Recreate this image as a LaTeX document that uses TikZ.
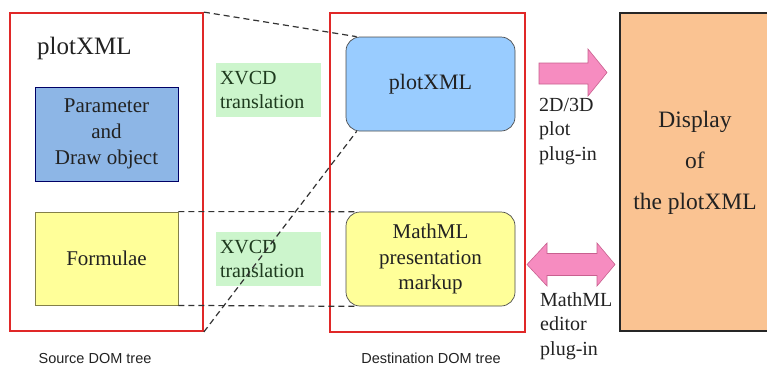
\documentclass[tikz,border=0pt]{standalone}
\usepackage{fontspec}
\setmainfont{Liberation Serif}
\setsansfont{Liberation Sans}
\usetikzlibrary{calc}
\definecolor{redbox}{HTML}{E02828}
\definecolor{lblue}{HTML}{8DB6E6}
\definecolor{rblue}{HTML}{99CCFF}
\definecolor{yel}{HTML}{FFFF99}
\definecolor{grn}{HTML}{CCF5CC}
\definecolor{grntext}{HTML}{1E3A1E}
\definecolor{orng}{HTML}{FAC392}
\definecolor{pinkf}{HTML}{F68CC0}
\definecolor{pinkd}{HTML}{C8608F}
\definecolor{txt}{HTML}{222222}
\tikzset{
  treebox/.style={draw=redbox, line width=1.8pt, inner sep=0pt},
  flatbox/.style={draw=#1, line width=0.8pt, inner sep=0pt, align=center, font=\fontsize{21}{26}\selectfont, text=txt},
  roundbox/.style={draw=black!70, line width=0.7pt, rounded corners=14pt, inner sep=0pt, align=center, text=txt},
  greenlab/.style={fill=grn, inner sep=0pt, align=left, text=grntext, font=\fontsize{20}{24}\selectfont},
  sidelab/.style={anchor=north west, inner sep=0pt, align=left, text=txt, font=\fontsize{20}{24.5}\selectfont},
  caption/.style={font=\sffamily\fontsize{14.5}{16}\selectfont, text=txt},
  linkline/.style={dash pattern=on 6pt off 4pt, draw=black!80, line width=1.2pt},
  pinkarrow/.style={fill=pinkf, draw=pinkd, line width=0.6pt, line join=miter}
}
\begin{document}
\begin{tikzpicture}[x=1pt,y=-1pt]
\useasboundingbox (0,0) rectangle (767,365);
% source tree
\node[treebox, minimum width=193pt, minimum height=318pt] (src) at (106.5,172) {};
\node[text=txt, font=\fontsize{25}{28}\selectfont, anchor=west, inner sep=0pt] (srctitle) at (37,48) {plotXML};
\node[flatbox=black!60!blue, fill=lblue, minimum width=143pt, minimum height=94pt] (pb) at (106.5,134) {Parameter\\and\\Draw object};
\node[flatbox=black!55!yellow, fill=yel, minimum width=143pt, minimum height=93pt] (fb) at (106.5,258.5) {Formulae};
% destination tree
\node[treebox, minimum width=195pt, minimum height=319pt] (dst) at (427.5,172.5) {};
\node[roundbox, fill=rblue, minimum width=169pt, minimum height=94pt, font=\fontsize{22}{26}\selectfont] (dp) at (430.5,84) {plotXML};
\node[roundbox, fill=yel, minimum width=169pt, minimum height=94pt, font=\fontsize{21}{25.5}\selectfont] (dm) at (430.5,259) {MathML\\presentation\\markup};
% translation labels
\node[greenlab, minimum width=105pt, minimum height=54pt, text width=97pt] (g1) at (268.5,90) {XVCD\\translation};
\node[greenlab, minimum width=105pt, minimum height=54pt, text width=97pt] (g2) at (268.5,259) {XVCD\\translation};
% links
\coordinate (dpa) at ($(dp.north west)+(11,0)$);
\coordinate (dpb) at ($(dp.south west)+(11,0)$);
\coordinate (dma) at ($(dm.north west)+(11,0)$);
\coordinate (dmb) at ($(dm.south west)+(11,0)$);
\draw[linkline] (src.north east) -- (dpa);
\draw[linkline] (src.south east) -- (dpb);
\draw[linkline] (fb.north east) -- (dma);
\draw[linkline] (fb.south east) -- (dmb);
% display
\node[draw=black!85, line width=1.3pt, fill=orng, minimum width=160pt, minimum height=318pt, inner sep=0pt] (disp) at (700,172) {};
\node[text=txt, align=center, font=\fontsize{23.5}{41}\selectfont] (disptext) at (695,163) {Display\\of\\the plotXML};
% arrows
\draw[pinkarrow] (539,63) -- (588,63) -- (588,49) -- (607,72.5) -- (588,96) -- (588,84) -- (539,84) -- cycle;
\draw[pinkarrow] (527,264.5) -- (547,243) -- (547,253.5) -- (597,253.5) -- (597,243) -- (615,264.5)
  -- (597,286) -- (597,275.5) -- (547,275.5) -- (547,286) -- cycle;
\node[sidelab] (l1) at (539,98) {2D/3D\\plot\\plug-in};
\node[sidelab] (l2) at (540,292) {MathML\\editor\\plug-in};
% captions
\node[caption] (c1) at (95,358) {Source DOM tree};
\node[caption] (c2) at (431,358) {Destination DOM tree};
\end{tikzpicture}
\end{document}
